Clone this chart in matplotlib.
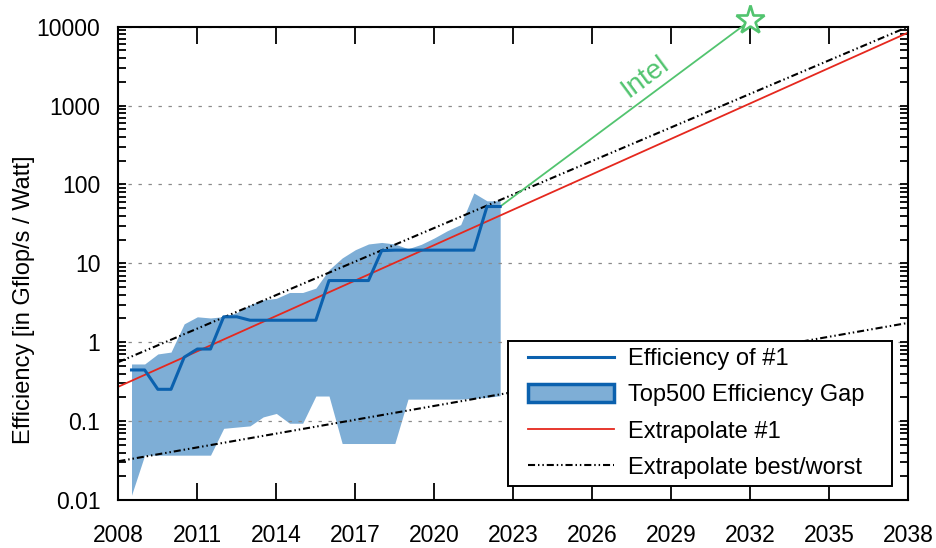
import matplotlib
matplotlib.use("Agg")
import matplotlib.pyplot as plt
from matplotlib.lines import Line2D
from matplotlib.patches import Patch
from matplotlib.legend_handler import HandlerLine2D, HandlerPatch
from matplotlib.ticker import LogLocator, FixedLocator, NullFormatter

plt.rcParams['font.family'] = ['Liberation Sans', 'DejaVu Sans']

# ---------------- data ----------------
years = [2008.5, 2009.0, 2009.5, 2010.0, 2010.5, 2011.0, 2011.5, 2012.0, 2012.5,
         2013.0, 2013.5, 2014.0, 2014.5, 2015.0, 2015.5, 2016.0, 2016.5, 2017.0,
         2017.5, 2018.0, 2018.5, 2019.0, 2019.5, 2020.0, 2020.5, 2021.0, 2021.5,
         2022.0, 2022.5]
eff_no1 = [0.445, 0.445, 0.253, 0.253, 0.645, 0.82, 0.82, 2.1, 2.1,
           1.9, 1.9, 1.9, 1.9, 1.9, 1.9, 6.05, 6.05, 6.05,
           6.05, 14.5, 14.7, 14.7, 14.7, 14.7, 14.7, 14.7, 14.7,
           52.5, 52.5]
gap_upper = [0.53, 0.53, 0.71, 0.75, 1.71, 2.1, 2.03, 2.11, 2.38,
             2.98, 3.44, 3.6, 4.27, 4.27, 4.85, 8.3, 11.7, 14.9,
             17.6, 18.4, 17.6, 15.3, 17.4, 21.0, 26.0, 31.0, 78.0,
             62.0, 62.0]
gap_lower = [0.0115, 0.037, 0.037, 0.037, 0.037, 0.037, 0.037, 0.081, 0.084,
             0.087, 0.113, 0.125, 0.094, 0.094, 0.208, 0.208, 0.052, 0.052,
             0.052, 0.052, 0.052, 0.19, 0.19, 0.19, 0.19, 0.19, 0.195,
             0.20, 0.21]

extrap_years = [2008, 2038]
extrap_no1 = [0.273, 8440]
extrap_best = [0.56, 10000]
extrap_worst = [0.031, 1.76]

intel_years = [2022.5, 2032]
intel_eff = [52.5, 12000]

xticks = [2008, 2011, 2014, 2017, 2020, 2023, 2026, 2029, 2032, 2035, 2038]
yticks = [0.01, 0.1, 1, 10, 100, 1000, 10000]
ytick_labels = ['0.01', '0.1', '1', '10', '100', '1000', '10000']

# ---------------- style ----------------
c_fill = '#7eaed6'
c_blue = '#0b61ae'
c_red = '#e5281e'
c_green = '#52c46f'
dashdot = (0, (3.4, 1.4, 0.7, 1.4, 0.7, 1.4))
fs = 16.5
fs_leg = 17

fig = plt.figure(figsize=(9.37, 5.48), dpi=100)
ax = fig.add_axes([0.1263, 0.0876, 0.8431, 0.8637])

ax.fill_between(years, gap_lower, gap_upper, color=c_fill, lw=0, zorder=0.5)
ax.plot(years, eff_no1, color=c_blue, lw=2.2, zorder=3)
ax.plot(extrap_years, extrap_no1, color=c_red, lw=1.3, zorder=2.5)
ax.plot(extrap_years, extrap_best, color='black', lw=1.5, ls=dashdot, zorder=2.4)
ax.plot(extrap_years, extrap_worst, color='black', lw=1.5, ls=dashdot, zorder=2.4)
ax.plot(intel_years, intel_eff, color=c_green, lw=1.3, zorder=2.6, clip_on=False)
ax.plot(intel_years[-1:], intel_eff[-1:], marker='*', ms=21, mfc='white',
        mec=c_green, mew=1.9, ls='none', zorder=5, clip_on=False)
ax.text(2028.0, 2300, 'Intel', color=c_green, fontsize=20, rotation=36.6,
        rotation_mode='anchor', ha='center', va='center')

ax.set_yscale('log')
ax.set_xlim(2008, 2038)
ax.set_ylim(0.01, 10000)
ax.xaxis.set_major_locator(FixedLocator(xticks))
ax.set_xticklabels([str(t) for t in xticks])
ax.yaxis.set_major_locator(FixedLocator(yticks))
ax.set_yticklabels(ytick_labels)
ax.yaxis.set_minor_locator(LogLocator(base=10, subs=range(2, 10), numticks=20))
ax.yaxis.set_minor_formatter(NullFormatter())

ax.tick_params(axis='x', which='major', direction='in', length=12, width=1.3,
               top=True, bottom=True, pad=17, labelsize=fs)
ax.tick_params(axis='y', which='both', direction='in', length=6, width=1.3,
               left=True, right=True, pad=13, labelsize=fs)
ax.tick_params(axis='x', which='minor', bottom=False, top=False)
for s in ax.spines.values():
    s.set_linewidth(1.5)

ax.yaxis.grid(True, which='major', color='#8a8a8a', lw=0.9, ls=(0, (2.7, 5.3)))
ax.set_ylabel('Efficiency [in Gflop/s / Watt]', fontsize=17)
ax.yaxis.set_label_coords(-0.105, 0.423)

handles = [
    Line2D([], [], color=c_blue, lw=2.2),
    Patch(facecolor=c_fill, edgecolor=c_blue, lw=2.5),
    Line2D([], [], color=c_red, lw=1.3),
    Line2D([], [], color='black', lw=1.5, ls=dashdot),
]
labels = ['Efficiency of #1', 'Top500 Efficiency Gap', 'Extrapolate #1',
          'Extrapolate best/worst']
hpad = 0.55
hmap = {handles[0]: HandlerLine2D(xpad=hpad), handles[2]: HandlerLine2D(xpad=hpad),
        handles[3]: HandlerLine2D(xpad=hpad), handles[1]: HandlerPatch(xpad=hpad)}
leg = fig.legend(handles, labels, loc='upper left', mode='expand',
                 bbox_to_anchor=(508 / 937, 1 - 484 / 548, 384 / 937, 143 / 548),
                 handler_map=hmap, fontsize=fs_leg, frameon=True,
                 fancybox=False, edgecolor='black', framealpha=1,
                 handlelength=4.2, handleheight=0.78, handletextpad=0.6,
                 labelspacing=0.6, borderpad=0.3, borderaxespad=0)
leg.get_frame().set_linewidth(1.4)

fig.savefig('out.png', dpi=100)
